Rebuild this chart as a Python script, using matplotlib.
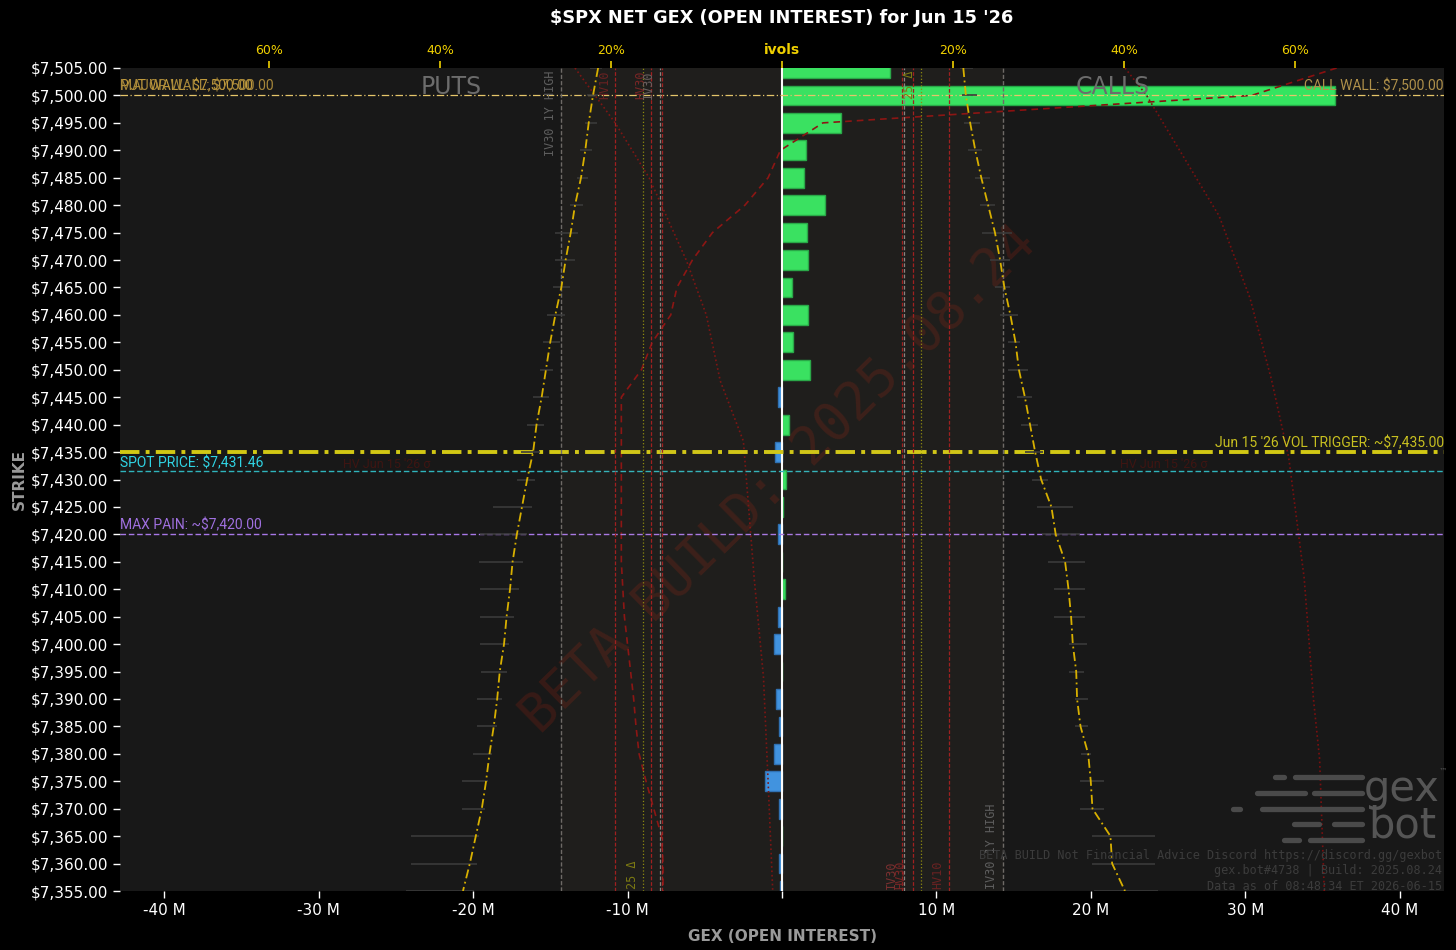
import matplotlib
matplotlib.use("Agg")
import matplotlib.pyplot as plt
from matplotlib.lines import Line2D
import numpy as np

# strikes, top to bottom
strikes = [7505, 7500, 7495, 7490, 7485, 7480, 7475, 7470, 7465, 7460,
           7455, 7450, 7445, 7440, 7435, 7430, 7425, 7420, 7415, 7410,
           7405, 7400, 7395, 7390, 7385, 7380, 7375, 7370, 7365, 7360, 7355]

# net gex (open interest), millions
gex = [7.0, 35.8, 3.8, 1.55, 1.4, 2.8, 1.6, 1.7, 0.65, 1.7,
       0.7, 1.8, -0.25, 0.45, -0.45, 0.25, 0.05, -0.25, 0.03, 0.2,
       -0.25, -0.5, 0.0, -0.4, -0.2, -0.55, -1.1, -0.2, 0.0, -0.2, -0.1]

# implied vols (%) per strike
put_iv = [21.5, 22.1, 22.6, 23.0, 23.5, 24.2, 24.7, 25.3, 25.8, 26.5,
          27.1, 27.6, 28.1, 28.7, 29.1, 29.8, 30.4, 31.0, 31.5, 31.8,
          32.2, 32.5, 33.0, 33.3, 33.7, 34.2, 34.6, 35.1, 35.8, 36.5, 37.3]
call_iv = [21.2, 21.5, 22.0, 22.6, 23.3, 24.1, 24.9, 25.5, 26.0, 26.7,
           27.3, 27.7, 28.4, 29.0, 29.6, 30.3, 31.5, 32.0, 33.1, 33.5,
           33.8, 34.0, 34.4, 34.5, 34.9, 35.8, 36.1, 36.3, 38.4, 38.6, 40.1]

# iv ranges (low / high %)
put_lo = [21.0, 21.5, 21.6, 22.2, 22.7, 23.3, 23.9, 24.2, 24.8, 25.4,
          26.0, 26.8, 27.3, 27.8, 28.3, 28.9, 29.2, 29.8, 30.3, 30.8,
          31.3, 31.9, 32.2, 32.7, 33.3, 33.9, 34.4, 34.7, 35.4, 35.7, 36.0]
put_hi = [22.5, 22.8, 23.0, 23.6, 24.0, 24.8, 26.5, 26.5, 26.8, 27.5,
          28.0, 28.3, 29.1, 29.8, 30.5, 31.0, 33.8, 35.3, 35.4, 35.3,
          35.3, 35.3, 35.2, 35.7, 35.7, 36.1, 37.4, 37.4, 43.4, 43.4, 44.0]
call_lo = [20.8, 21.0, 21.3, 21.8, 22.6, 23.2, 23.4, 24.3, 24.9, 25.5,
           26.4, 26.4, 27.5, 28.0, 28.4, 29.2, 29.8, 30.4, 31.1, 31.8,
           31.8, 33.5, 33.5, 34.2, 34.2, 35.0, 34.9, 34.9, 36.3, 36.3, 36.5]
call_hi = [22.3, 22.8, 23.2, 23.4, 24.3, 24.9, 26.9, 26.7, 26.7, 27.6,
           27.8, 28.8, 29.2, 29.9, 30.5, 31.1, 34.0, 34.9, 35.4, 35.4,
           35.4, 35.7, 35.3, 35.8, 35.8, 36.1, 37.7, 37.7, 43.6, 43.6, 44.0]

# red dashed profile (millions)
profile = [35.9, 30.4, 2.65, -0.1, -0.9, -2.4, -4.5, -5.8, -6.8, -7.2,
           -8.4, -9.1, -10.4, -10.4, -10.4, -10.4, -10.4, -10.4, -10.4, -10.3,
           -10.2, -10.0, -9.8, -9.6, -9.45, -9.25, -8.8, -8.3, -7.8, -7.7, -7.7]

# red dotted curves (millions)
dot_l_strikes = [7505, 7495, 7485, 7470, 7460, 7448, 7437, 7412, 7394, 7375, 7355]
dot_l_vals = [-13.4, -10.8, -8.6, -6.2, -4.9, -4.0, -2.5, -1.8, -1.2, -0.9, -0.6]
dot_r_strikes = [7505, 7500, 7478, 7463, 7448, 7434, 7412, 7390, 7379, 7355]
dot_r_vals = [22.2, 23.6, 28.3, 30.3, 31.7, 32.8, 33.8, 34.4, 34.8, 35.1]

# vol reference levels (%)
iv30_1y_high = 25.8
hv10 = 19.5
hv30 = 15.3
iv30 = 14.3
hv_other = 14.0
delta25 = 16.2

call_wall = 7500
vol_trigger = 7435
spot = 7431.46
max_pain = 7420

XMAX = 42.85        # millions
PCT_MAX = 77.4      # top axis limit

narrow = ['Liberation Sans Narrow', 'Roboto', 'DejaVu Sans']
mono = 'DejaVu Sans Mono'
LFS = 10

fig = plt.figure(figsize=(14.56, 9.5), dpi=100, facecolor='black')
ax = fig.add_axes([120 / 1456, 1 - 891 / 950, 1324 / 1456, 823 / 950])
ax.set_facecolor('#181818')
ax.set_xlim(-XMAX, XMAX)
ax.set_ylim(7355, 7505)

ax2 = ax.twiny()
ax2.set_xlim(-PCT_MAX, PCT_MAX)

# shaded band between IV30 1Y highs
ax2.axvspan(-iv30_1y_high, iv30_1y_high, color='#c8b080', alpha=0.045, lw=0, zorder=0)

# bars
colors = ['#34e460' if g >= 0 else '#3b92e4' for g in gex]
edges = ['#23a846' if g >= 0 else '#2a6fb5' for g in gex]
ax.barh(strikes, gex, height=3.6, color=colors, edgecolor=edges, linewidth=1, zorder=2)
ax.axvline(0, color='white', lw=1.5, zorder=4)

# red profile curves
ax.plot(profile, strikes, color='#8a1010', lw=1.2, dashes=(4, 3), zorder=3)
ax.plot(dot_l_vals, dot_l_strikes, color='#7a1010', lw=1.2, ls=':', zorder=3)
ax.plot(dot_r_vals, dot_r_strikes, color='#7a1010', lw=1.2, ls=':', zorder=3)

# horizontal levels
ax.axhline(call_wall, color='#e6c66a', lw=0.9, dashes=(6, 2, 1, 2), zorder=5)
ax.axhline(vol_trigger, color='#d2c814', lw=2.8, dashes=(5, 1.6, 1, 1.6), zorder=5)
ax.axhline(spot, color='#2fb4bc', lw=1.0, dashes=(4, 2), zorder=5)
ax.axhline(max_pain, color='#a878e8', lw=1.0, dashes=(4, 2), zorder=5)

yt = ax.get_yaxis_transform()
ax.text(0.0, call_wall + 0.3, 'PUT WALL: \\$7,500.00', transform=yt,
        color='#c09a3c', fontsize=LFS, family=narrow, va='bottom', ha='left', zorder=6)
ax.text(0.0, call_wall + 0.3, 'MAJOR WALL: \\$7,500.00', transform=yt,
        color='#a8883a', fontsize=LFS, family=narrow, va='bottom', ha='left', zorder=6)
ax.text(1.0, call_wall + 0.3, 'CALL WALL: \\$7,500.00', transform=yt,
        color='#b0914a', fontsize=LFS, family=narrow, va='bottom', ha='right', zorder=6)
ax.text(1.0, vol_trigger + 0.3, "Jun 15 '26 VOL TRIGGER: ~\\$7,435.00", transform=yt,
        color='#c8c020', fontsize=LFS, family=narrow, va='bottom', ha='right', zorder=6)
ax.text(0.0, spot + 0.3, 'SPOT PRICE: \\$7,431.46', transform=yt,
        color='#30d4e4', fontsize=LFS, family=narrow, va='bottom', ha='left', zorder=6)
ax.text(0.0, max_pain + 0.3, 'MAX PAIN: ~\\$7,420.00', transform=yt,
        color='#a070e0', fontsize=LFS, family=narrow, va='bottom', ha='left', zorder=6)
ax.text(-28.4, spot + 0.6, "HV Jun 15 '26 σ", color='#3e1512', fontsize=9, family=narrow, zorder=1)
ax.text(21.9, spot + 0.6, "HV Jun 15 '26 σ", color='#3e1512', fontsize=9, family=narrow, zorder=1)

# watermark
ax.text(0.498, 0.5, 'BETA BUILD: 2025.08.24', transform=ax.transAxes, rotation=44.5,
        rotation_mode='anchor', ha='center', va='center', fontsize=38, family=mono,
        color='#6e2014', alpha=0.36, zorder=1)

ax.text(0.25, 0.977, 'PUTS', transform=ax.transAxes, ha='center', va='center',
        fontsize=17, color='#6c6c6c', zorder=6)
ax.text(0.75, 0.977, 'CALLS', transform=ax.transAxes, ha='center', va='center',
        fontsize=17, color='#6c6c6c', zorder=6)

# vol reference verticals
for side in (-1, 1):
    ax2.axvline(side * iv30_1y_high, color='#6e6a66', lw=1, dashes=(3, 1.5), zorder=3)
    ax2.axvline(side * hv10, color='#a02020', lw=0.9, dashes=(3, 1.5), zorder=3)
    ax2.axvline(side * hv30, color='#a02020', lw=0.9, dashes=(3, 1.5), zorder=3)
    ax2.axvline(side * hv_other, color='#a02020', lw=0.9, dashes=(3, 1.5), zorder=3)
    ax2.axvline(side * iv30, color='#8a8480', lw=0.9, dashes=(3, 1.5), zorder=3)
    ax2.axvline(side * delta25, color='#8c8a10', lw=0.9, ls=':', zorder=3)

tx = ax2.get_xaxis_transform()
lab = dict(rotation=90, family=mono, fontsize=8.5, zorder=6)
ax2.text(-iv30_1y_high - 0.5, 0.997, 'IV30 1Y HIGH', transform=tx, ha='right', va='top', color='#5e5e5e', **lab)
ax2.text(-hv10 - 0.5, 0.997, 'HV10', transform=tx, ha='right', va='top', color='#6a2222', **lab)
ax2.text(-hv30 - 0.4, 0.997, 'HV30', transform=tx, ha='right', va='top', color='#7a2626', **lab)
ax2.text(-iv30 - 0.6, 0.997, 'IV30', transform=tx, ha='right', va='top', color='#6a6060', **lab)
ax2.text(-delta25 - 0.5, 0.003, '25 Δ', transform=tx, ha='right', va='bottom', color='#7c7a12', **lab)
ax2.text(iv30_1y_high - 0.5, 0.003, 'IV30 1Y HIGH', transform=tx, ha='right', va='bottom', color='#5e5e5e', **lab)
ax2.text(hv10 - 0.5, 0.003, 'HV10', transform=tx, ha='right', va='bottom', color='#6a2222', **lab)
ax2.text(hv30 - 0.6, 0.003, 'HV30', transform=tx, ha='right', va='bottom', color='#7a2626', **lab)
ax2.text(hv_other - 0.4, 0.003, 'IV30', transform=tx, ha='right', va='bottom', color='#7a3030', **lab)
ax2.text(delta25 - 0.5, 0.997, '25 Δ', transform=tx, ha='right', va='top', color='#7c7a12', **lab)

# iv ranges + curves
ax2.hlines(strikes, [-v for v in put_hi], [-v for v in put_lo], color='#3a3a3a', lw=1.2, zorder=3)
ax2.hlines(strikes, call_lo, call_hi, color='#3a3a3a', lw=1.2, zorder=3)
ax2.plot([-v for v in put_iv], strikes, color='#d8b000', lw=1.3, dashes=(5, 2, 1, 2), zorder=4)
ax2.plot(call_iv, strikes, color='#d8b000', lw=1.3, dashes=(5, 2, 1, 2), zorder=4)

# axes styling
ax.set_yticks(strikes)
ax.set_yticklabels(['\\$%s' % format(s, ',.2f') for s in strikes])
xt = [-40, -30, -20, -10, 0, 10, 20, 30, 40]
ax.set_xticks(xt)
ax.set_xticklabels(['' if v == 0 else '%d M' % v for v in xt])
ax.tick_params(colors='white', labelsize=11, length=5, width=1)
for sp in ax.spines.values():
    sp.set_visible(False)
for sp in ax2.spines.values():
    sp.set_visible(False)

pt = [-60, -40, -20, 0, 20, 40, 60]
ax2.set_xticks(pt)
ax2.set_xticklabels(['ivols' if v == 0 else '%d%%' % abs(v) for v in pt])
ax2.tick_params(axis='x', colors='#f0d000', labelsize=9, length=5, width=1.2, pad=3)
for t in ax2.get_xticklabels():
    if t.get_text() == 'ivols':
        t.set_fontweight('bold')
        t.set_fontsize(10)

ax.set_ylabel('STRIKE', color='#9a9a9a', fontsize=11, fontweight='bold', labelpad=3)
ax.set_xlabel('GEX (OPEN INTEREST)', color='#9a9a9a', fontsize=11, fontweight='bold', labelpad=8)
fig.text(782 / 1456, 1 - 18 / 950, "\\$SPX NET GEX (OPEN INTEREST) for Jun 15 '26", color='white',
         fontsize=12.8, fontweight='bold', ha='center', va='center')

# gexbot logo
W, H = 1456.0, 950.0
logo_rows = [(777, [(1275, 1284), (1295, 1362)]),
             (793, [(1257, 1305), (1314, 1362)]),
             (809, [(1233, 1240), (1262, 1362)]),
             (824, [(1294, 1319), (1334, 1362)]),
             (840, [(1284, 1299), (1310, 1362)])]
for yy, segs in logo_rows:
    for x0, x1 in segs:
        fig.add_artist(Line2D([x0 / W, x1 / W], [1 - yy / H, 1 - yy / H], color='#4a4a4a',
                              lw=3.8, solid_capstyle='round', transform=fig.transFigure))
fig.text(1402 / W, 1 - 789 / H, 'gex', color='#555555', fontsize=30, ha='center', va='center')
fig.text(1402 / W, 1 - 826 / H, 'bot', color='#555555', fontsize=30, ha='center', va='center')
fig.text(1439 / W, 1 - 771 / H, '™', color='#555555', fontsize=6, ha='left', va='center')

foot = ['BETA BUILD Not Financial Advice Discord https://discord.gg/gexbot',
        'gex.bot#4738 | Build: 2025.08.24',
        'Data as of 08:48:34 ET 2026-06-15']
for i, line in enumerate(foot):
    fig.text(1442 / W, 1 - (855 + i * 15.5) / H, line, color='#3c3c3c', fontsize=8.5,
             family=mono, ha='right', va='center')

fig.savefig('out.png', dpi=100, facecolor='black')
